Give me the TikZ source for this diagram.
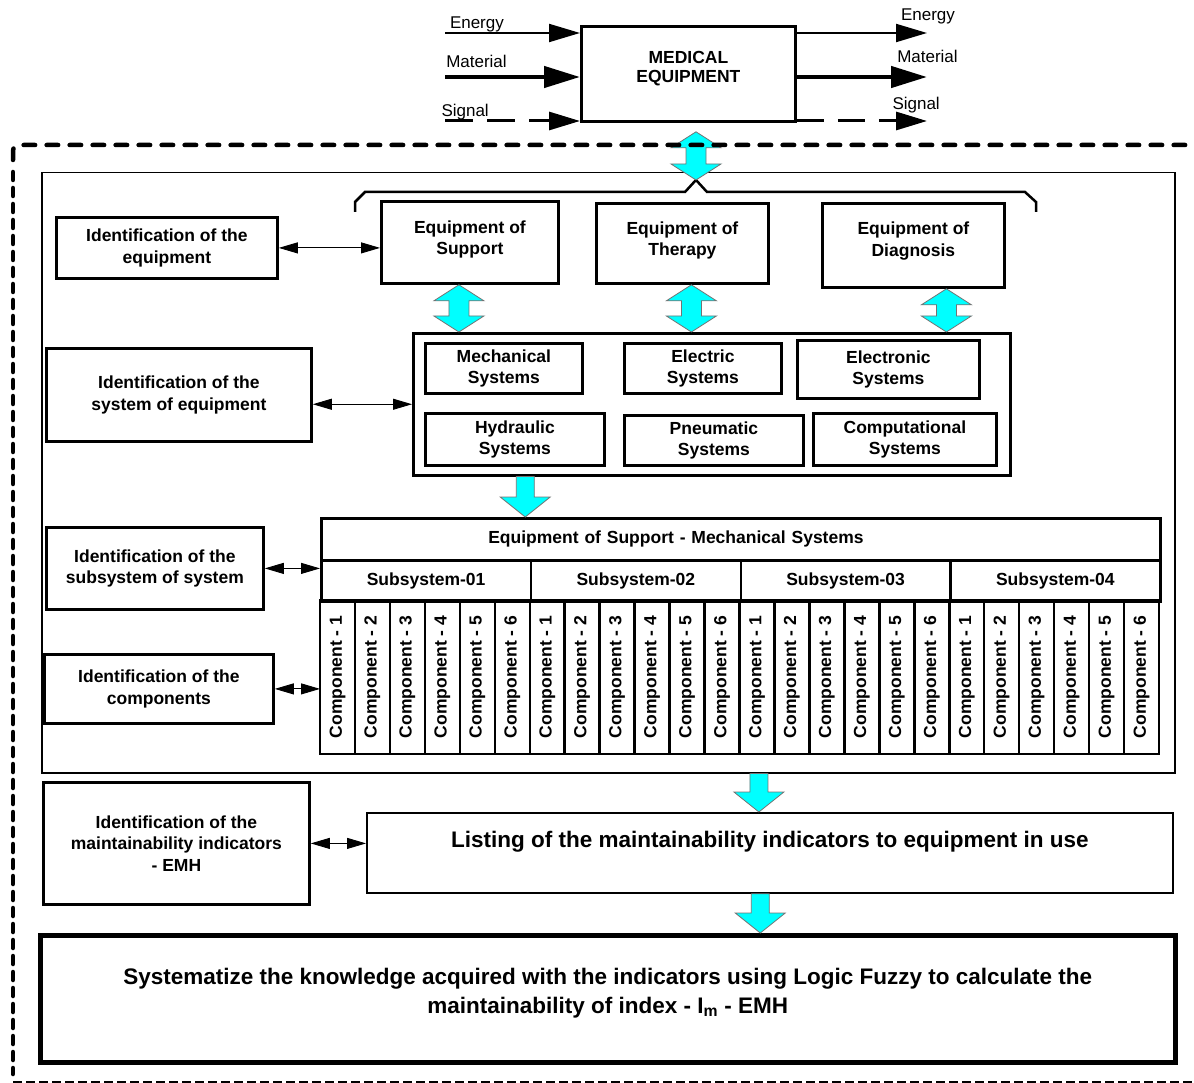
\documentclass[tikz,border=0pt]{standalone}
\usepackage{fontspec}
\setmainfont{Liberation Sans}
\usetikzlibrary{arrows.meta, calc}
\definecolor{aqua}{RGB}{0,255,255}
\tikzset{
    medflow/.style={x=1pt, y=-1pt, >={Triangle[length=19pt, width=11pt]},
        font=\bfseries\fontsize{17.5}{21.5}\selectfont},
    block/.style={draw, line width=2.8pt, align=center, anchor=north west, inner sep=0pt},
    thinblock/.style={draw, line width=1.8pt, align=center, anchor=north west, inner sep=0pt},
    cell/.style={draw, line width=2.5pt, inner sep=0pt},
    link/.style={<->, line width=0.9pt},
    flow/.style={line width=2pt, -{Triangle[length=31pt, width=18pt]}},
    flowlabel/.style={anchor=base west, inner sep=0pt, font=\mdseries\fontsize{17}{19}\selectfont},
    bigtext/.style={font=\bfseries\fontsize{22.5}{29}\selectfont},
    cyanarrow/.style={fill=aqua, draw=black!55, line width=0.8pt},
}
% block arrows: x is taken from the first point
\newcommand{\cyandbl}[2]{%
    \draw[cyanarrow] let \p1=(#1), \p2=(#2) in
        (\x1,\y1) -- (\x1+25pt,\y1-16pt) -- (\x1+10pt,\y1-16pt)
        -- (\x1+10pt,\y2+16pt) -- (\x1+25pt,\y2+16pt) -- (\x1,\y2)
        -- (\x1-25pt,\y2+16pt) -- (\x1-10pt,\y2+16pt)
        -- (\x1-10pt,\y1-16pt) -- (\x1-25pt,\y1-16pt) -- cycle;}
% x is taken from the second point
\newcommand{\cyandown}[2]{%
    \draw[cyanarrow] let \p1=(#1), \p2=(#2) in
        (\x2-9pt,\y1) -- (\x2+9pt,\y1) -- (\x2+9pt,\y2+20pt) -- (\x2+25pt,\y2+20pt)
        -- (\x2,\y2) -- (\x2-25pt,\y2+20pt) -- (\x2-9pt,\y2+20pt) -- cycle;}

\begin{document}
\begin{tikzpicture}[medflow]
    \useasboundingbox (0,0) rectangle (1194,1083);

    \node[draw, line width=1.5pt, anchor=north west, minimum width=1133, minimum height=600] (inner) at (41,172) {};

    % equipment and its flows
    \node[block, minimum width=214, minimum height=95, font=\bfseries\fontsize{17.5}{19}\selectfont, text depth=14pt] (medeq) at (580,25) {MEDICAL\\EQUIPMENT};
    \coordinate (ein)  at (445,33);
    \coordinate (min)  at (445,77);
    \coordinate (sin)  at (445,121);
    \coordinate (eout) at (927,33);
    \coordinate (mout) at (927,77);
    \coordinate (sout) at (927,121);

    \draw[flow] (ein) node[flowlabel, xshift=4pt, yshift=4pt] {Energy} -- (ein -| medeq.west);
    \draw[flow, line width=4.5pt, -{Triangle[length=36pt, width=21pt]}] (min) node[flowlabel, xshift=-1pt, yshift=9pt] {Material} -- (min -| medeq.west);
    \draw[flow, line width=3pt, dash pattern=on 28pt off 14pt] (sin) node[flowlabel, xshift=-5pt, yshift=4pt] {Signal} -- (sin -| medeq.west);
    \draw[flow] (eout -| medeq.east) -- (eout) node[flowlabel, xshift=-27pt, yshift=12pt] {Energy};
    \draw[flow, line width=4.5pt, -{Triangle[length=36pt, width=21pt]}] (mout -| medeq.east) -- (mout) node[flowlabel, xshift=-32pt, yshift=14pt] {Material};
    \draw[flow, line width=3pt, dash pattern=on 27pt off 14pt] (sout -| medeq.east) -- (sout) node[flowlabel, xshift=-36pt, yshift=11pt] {Signal};

    % kinds of equipment
    \node[block, minimum width=221, minimum height=61] (idequip) at (55,216) {Identification of the\\equipment};
    \node[block, minimum width=177, minimum height=82, text depth=9pt] (support) at (380,200) {Equipment of\\Support};
    \node[block, minimum width=172, minimum height=80, text depth=9pt] (therapy) at (595,202) {Equipment of\\Therapy};
    \node[block, minimum width=182, minimum height=84, text depth=12pt] (diagnosis) at (821,202) {Equipment of\\Diagnosis};
    \coordinate (apex) at (696,180);
    \draw[line width=2.5pt] (355,212) -- (355,202) -- (365,192) -- (685,192) -- (apex)
        -- (707,192) -- (1025,192) -- (1036,202) -- (1036,212);
    \draw[link] (idequip.east) -- (idequip.east -| support.west);

    % systems
    \node[block, line width=2.5pt, minimum width=597, minimum height=142] (sys) at (412,332) {};
    \node[block, minimum width=157, minimum height=50] (mech)  at (424,342) {Mechanical\\Systems};
    \node[block, minimum width=157, minimum height=50] (elec)  at (623,342) {Electric\\Systems};
    \node[block, minimum width=182, minimum height=58] (elecn) at (796,339) {Electronic\\Systems};
    \node[block, minimum width=179, minimum height=52] (hydr)  at (424,412) {Hydraulic\\Systems};
    \node[block, minimum width=179, minimum height=50] (pneu)  at (623,414) {Pneumatic\\Systems};
    \node[block, minimum width=183, minimum height=52] (compu) at (812,412) {Computational\\Systems};
    \node[block, minimum width=265, minimum height=93] (idsys) at (45,347) {Identification of the\\system of equipment};
    \draw[link] (sys.west -| idsys.east) -- (sys.west);

    % subsystems and components
    \node[cell, anchor=north west, minimum width=839, minimum height=42, text width=505, align=left, inner xsep=167pt] (tabhead) at (320,517) {Equipment of Support - Mechanical Systems};
    \foreach \s in {1,...,4}{
        \node[cell, anchor=north west, minimum width=209.75, minimum height=41] (sub\s) at ({320+(\s-1)*209.75},559) {Subsystem-0\s};
        \foreach \c in {1,...,6}
            \node[cell, rotate=90, minimum width=154, minimum height=34.96] (comp\s-\c) at ({320+(\s-1)*209.75+(\c-0.5)*34.96},677) {Component - \c};
    }
    \node[block, minimum width=217, minimum height=82] (idsub)  at (45,526) {Identification of the\\subsystem of system};
    \node[block, minimum width=229, minimum height=69] (idcomp) at (43,653) {Identification of the\\components};
    \draw[link] (idsub.east) -- (idsub.east -| tabhead.west);
    \draw[link] (idcomp.east) -- (idcomp.east -| tabhead.west);

    % indicators and index
    \node[block, minimum width=266, minimum height=122] (emh) at (42,781) {Identification of the\\maintainability indicators\\- EMH};
    \node[thinblock, bigtext, minimum width=806, minimum height=80, text depth=28pt] (listing) at (366,812) {Listing of the maintainability indicators to equipment in use};
    \node[block, bigtext, line width=4.5pt, minimum width=1135, minimum height=127, text depth=16pt] (fuzzy) at (38,933) {Systematize the knowledge acquired with the indicators using Logic Fuzzy to calculate the\\maintainability of index - I\textsubscript{m} - EMH};
    \draw[link] (emh.east) -- (emh.east -| listing.west);

    % block arrows
    \cyandbl{$(apex |- medeq.south)+(0,9)$}{apex};
    \cyandbl{[xshift=-11pt]support.south}{sys.north};
    \cyandbl{[xshift=9pt]therapy.south}{sys.north};
    \cyandbl{[xshift=33pt]diagnosis.south}{sys.north};
    \cyandown{sys.south}{[xshift=-215.5pt]tabhead.north};
    \cyandown{inner.south}{[xshift=-11pt]listing.north};
    \cyandown{listing.south}{[xshift=152.5pt]fuzzy.north};

    % dashed boundary
    \draw[line width=4.5pt, line cap=round, dash pattern=on 11.5pt off 11.5pt, rounded corners=6pt] (13,160) -- (13,145) -- (1194,145);
    \draw[line width=4.5pt, line cap=round, dash pattern=on 8pt off 8pt] (13,172) -- (13,1074);
    \draw[line width=2pt, dash pattern=on 9pt off 4pt] (13,1082) -- (1194,1082);
\end{tikzpicture}
\end{document}
